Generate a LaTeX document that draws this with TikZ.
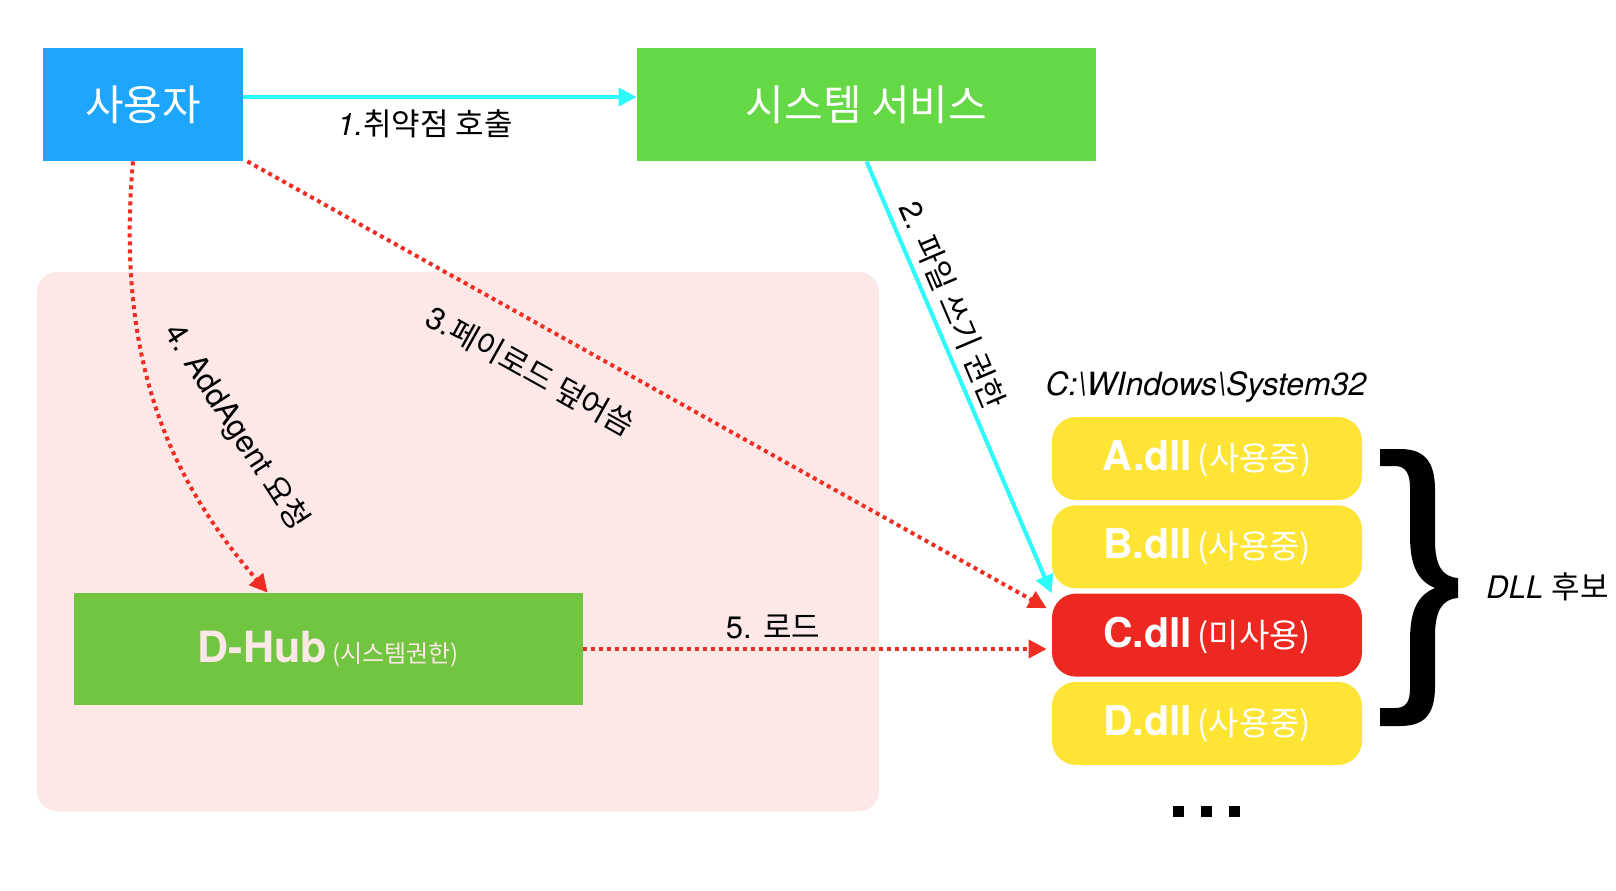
\documentclass[tikz,border=0pt]{standalone}
\usepackage{fontspec}
\setmainfont{TeX Gyre Heros}
\newfontfamily\kr{Noto Sans CJK KR}
\usepackage{xcolor}
\usetikzlibrary{arrows.meta,calc,positioning}
\definecolor{userblue}{RGB}{30,165,252}
\definecolor{svcgreen}{RGB}{101,216,69}
\definecolor{hubgreen}{RGB}{114,197,64}
\definecolor{bgpink}{RGB}{252,233,231}
\definecolor{dllyellow}{RGB}{254,228,53}
\definecolor{dllred}{RGB}{236,40,33}
\definecolor{arrowcyan}{RGB}{45,250,250}
\definecolor{arrowred}{RGB}{240,45,35}
\newcommand\dlltext[2]{{\bfseries\fontsize{20.5}{24}\selectfont #1} {\kr\fontsize{16.5}{19}\selectfont (#2)}}

\begin{document}
\begin{tikzpicture}[x=0.5pt,y=0.5pt,yscale=-1,xscale=1,
  box/.style={inner sep=0pt, text=white},
  dllbox/.style={fill=dllyellow, rounded corners=12pt, minimum width=155pt, minimum height=41.5pt, inner sep=0pt, text=white},
  lbl/.style={inner sep=0pt, font=\fontsize{15.5}{18}\selectfont},
  cyanarrow/.style={draw=arrowcyan, line width=2pt, -{Triangle[length=9pt,width=9pt]}},
  redarrow/.style={draw=arrowred, line width=2pt, dash pattern=on 2pt off 2pt, -{Triangle[length=9pt,width=9pt]}}]
%set diagram size 1616 x 890
\fill[white] (0,0) rectangle (1616,890);
\useasboundingbox (0,0) rectangle (1616,890);

%Shape: background region
\fill[bgpink, rounded corners=10pt] (37,272) rectangle (879,811);

%Boxes
\node[box, fill=userblue, minimum width=100pt, minimum height=56.5pt, font=\kr\fontsize{21}{25}\selectfont] (user) at (143,104.5) {사용자};
\node[box, fill=svcgreen, minimum width=229.5pt, minimum height=56.5pt, font=\kr\fontsize{21}{25}\selectfont] (svc) at (866.5,104.5) {시스템 서비스};
\node[box, fill=hubgreen, text=bgpink, minimum width=254.5pt, minimum height=56pt] (dhub) at (328.5,649) {{\bfseries\fontsize{21.5}{25}\selectfont D-Hub} {\kr\fontsize{12}{14}\selectfont (시스템권한)}};

%DLL stack
\node[dllbox] (adll) at (1207,458.5) {\dlltext{A.dll}{사용중}};
\node[dllbox, below=2.25pt of adll] (bdll) {\dlltext{B.dll}{사용중}};
\node[dllbox, fill=dllred, below=2.25pt of bdll] (cdll) {\dlltext{C.dll}{미사용}};
\node[dllbox, below=2.25pt of cdll] (ddll) {\dlltext{D.dll}{사용중}};
\node[inner sep=0pt, font=\itshape\fontsize{16}{19}\selectfont] (syspath) at (1206,387) {C:\textbackslash WIndows\textbackslash System32};
\foreach \dx in {0,28,56}
  \fill (1173+\dx,806) rectangle +(11,11);

%Shape: brace
\fill (1380,449) -- (1400,449) .. controls (1425,449) and (1435,462) .. (1435,490) -- (1435,540) .. controls (1435,565) and (1442,577) .. (1458,578) -- (1458,598) .. controls (1442,599) and (1435,611) .. (1435,636) -- (1435,686) .. controls (1435,714) and (1425,726) .. (1400,726) -- (1380,726) -- (1380,708) -- (1395,708) .. controls (1406,708) and (1410,702) .. (1410,688) -- (1410,640) .. controls (1410,610) and (1418,595) .. (1435,588) .. controls (1418,581) and (1410,566) .. (1410,536) -- (1410,488) .. controls (1410,474) and (1406,466) .. (1395,466) -- (1380,466) -- cycle;
\node[anchor=west, inner sep=0pt, font=\fontsize{15.5}{18}\selectfont] (cand) at (1486,587) {\textit{DLL} {\kr 후보}};

%Arrows
\coordinate (callstart) at ($(user.east)+(0,-7.5)$);
\draw[cyanarrow] (callstart) -- (callstart -| svc.west);
\draw[cyanarrow] (svc.south) -- (cdll.north west);
\draw[redarrow] ($(user.south east)+(4,0)$) -- ($(cdll.north west)+(-5,15)$);
\draw[redarrow] ($(user.south)+(-10,0)$) .. controls (114,375) and (180,490) .. ($(dhub.north west)+(194,0)$);
\draw[redarrow] (dhub.east) -- ($(dhub.east -| cdll.west)+(-5,0)$);

% Text Node
\node[lbl] (call) at (425,124) {{\itshape 1.}{\kr 취약점 호출}};
% Text Node
\node[lbl, rotate=-67] (write) at (953,305) {2. {\kr 파일 쓰기 권한}};
% Text Node
\node[lbl, rotate=-29.2] (overwrite) at (531,371) {3.{\kr 페이로드 덮어씀}};
% Text Node
\node[lbl, rotate=-57] (addagent) at (236,427) {4. AddAgent {\kr 요청}};
% Text Node
\node[lbl] (load) at (773,627) {5. {\kr 로드}};
\end{tikzpicture}
\end{document}
